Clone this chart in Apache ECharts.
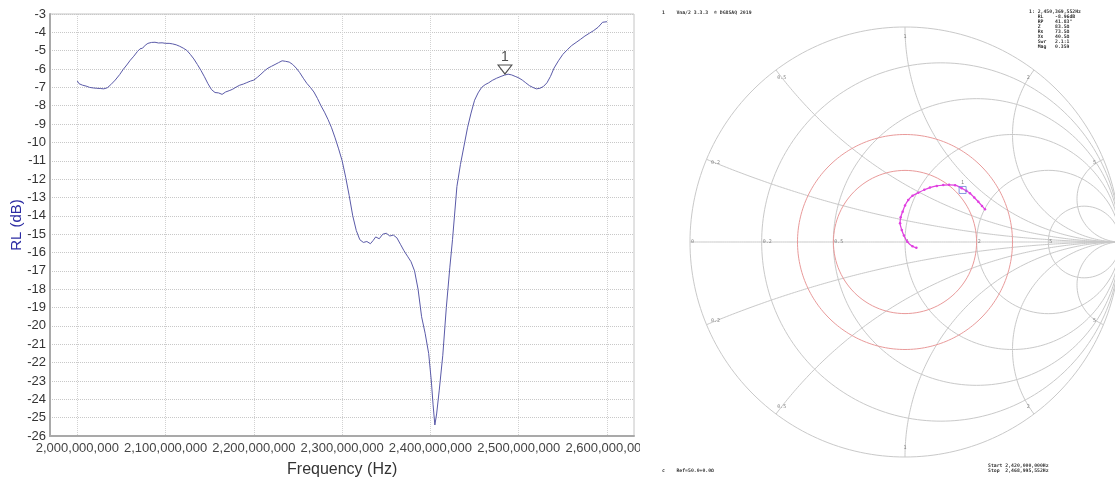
<!DOCTYPE html>
<html><head><meta charset="utf-8">
<script src="https://cdn.jsdelivr.net/npm/echarts@6/dist/echarts.min.js"></script>
<style>html,body{margin:0;padding:0;background:#fff}#c{width:1115px;height:479px}</style>
</head><body><div id="c"></div>
<script>
// ---- Return loss trace (left panel) ----
const freqMHz = [2000,2002,2006,2010,2014,2018,2022,2026,2028,2030,2034,2038,2043,2048,2052,2056,2060,2064,2068,2071,2074,2077,2080,2084,2088,2092,2096,2100,2104,2108,2112,2116,2120,2124,2128,2132,2136,2140,2144,2148,2152,2156,2160,2164,2168,2172,2176,2180,2184,2188,2192,2196,2200,2204,2208,2212,2216,2220,2224,2228,2232,2236,2240,2244,2248,2252,2256,2260,2264,2268,2272,2276,2280,2284,2288,2292,2296,2300,2304,2308,2312,2316,2320,2324,2328,2332,2335,2338,2342,2346,2350,2354,2358,2362,2366,2370,2374,2378,2382,2386,2390,2394,2398,2401,2403,2405,2407,2410,2414,2418,2422,2425,2430,2434,2438,2442,2446,2450,2454,2458,2462,2466,2470,2475,2480,2484,2488,2492,2496,2500,2504,2508,2512,2516,2520,2524,2528,2532,2536,2540,2545,2550,2555,2560,2565,2570,2575,2580,2585,2590,2595,2597,2600];
const rlDb = [-6.65,-6.80,-6.88,-6.93,-7.00,-7.03,-7.05,-7.06,-7.14,-7.08,-7.02,-6.85,-6.60,-6.30,-6.02,-5.78,-5.52,-5.30,-5.05,-4.90,-4.86,-4.70,-4.60,-4.55,-4.54,-4.58,-4.57,-4.60,-4.60,-4.63,-4.68,-4.76,-4.86,-4.98,-5.20,-5.45,-5.75,-6.07,-6.42,-6.80,-7.12,-7.28,-7.30,-7.38,-7.25,-7.18,-7.10,-6.98,-6.88,-6.82,-6.74,-6.66,-6.60,-6.45,-6.28,-6.10,-5.95,-5.85,-5.75,-5.65,-5.55,-5.58,-5.62,-5.75,-5.95,-6.20,-6.50,-6.78,-7.00,-7.25,-7.60,-8.00,-8.35,-8.75,-9.20,-9.75,-10.35,-11.00,-11.90,-12.90,-14.00,-14.80,-15.30,-15.45,-15.40,-15.52,-15.35,-15.15,-15.25,-15.00,-14.95,-15.10,-15.05,-15.20,-15.55,-15.90,-16.20,-16.50,-17.00,-18.00,-19.50,-20.40,-21.50,-23.00,-24.30,-25.40,-24.80,-23.50,-21.60,-19.00,-16.80,-15.30,-12.40,-11.20,-10.20,-9.20,-8.40,-7.70,-7.30,-7.00,-6.85,-6.75,-6.62,-6.50,-6.40,-6.33,-6.28,-6.32,-6.40,-6.48,-6.60,-6.75,-6.90,-7.00,-7.08,-7.05,-6.95,-6.75,-6.40,-5.95,-5.55,-5.20,-4.95,-4.72,-4.55,-4.38,-4.20,-4.05,-3.90,-3.72,-3.45,-3.35,-3.42];
const markerFreqMHz = 2484.4;
const markerDb = -6.27;
const markerName = '1';

// ---- Smith chart (right panel) ----
const smithTraceRe = [0.053,0.035,0.011,-0.005,-0.015,-0.023,-0.020,-0.011,0.000,0.015,0.035,0.062,0.090,0.116,0.148,0.178,0.205,0.233,0.264,0.285,0.302,0.322,0.341,0.358,0.372];
const smithTraceIm = [-0.027,-0.020,0.001,0.030,0.056,0.087,0.115,0.141,0.170,0.195,0.215,0.229,0.243,0.253,0.261,0.265,0.266,0.264,0.250,0.238,0.227,0.207,0.187,0.168,0.152];
const smithMarker = [0.268, 0.242];
const smithR = [0, 0.2, 0.5, 1, 2, 5];
const smithX = [0.2, 0.5, 1, 2, 5];
const vswrGamma = [0.333, 0.5];
const headerText = '1    Vna/2 3.3.3  \u00a9 DG8SAQ 2019';
const readoutLines = ['1: 2,450,369,552Hz','   RL    -8.96dB','   RP    41.83\u00b0','   Z     83.5\u03a9','   Rs    73.5\u03a9','   Xs    40.5\u03a9','   Swr   2.1:1','   Mag   0.359'];
const refText = 'c    Ref=50.0+0.0\u03a9';
const sweepLines = ['Start 2,420,000,000Hz','Stop  2,468,995,552Hz'];

function fmtThousands(v){ return String(Math.round(v)).replace(/\B(?=(\d{3})+(?!\d))/g, ','); }
function gamma(r, x){ const d=(r+1)*(r+1)+x*x; return [(r*r+x*x-1)/d, 2*x/d]; }

const series = [];
series.push({
  type:'line', xAxisIndex:1, yAxisIndex:1, z:3,
  data: freqMHz.map((f,i)=>[f, rlDb[i]]),
  showSymbol:false, lineStyle:{color:'#5a5aa8', width:1}, silent:true
});
series.push({
  type:'scatter', xAxisIndex:1, yAxisIndex:1, z:4,
  data:[[markerFreqMHz, markerDb]],
  symbol:'triangle', symbolRotate:180, symbolSize:[14,9], symbolOffset:[0,-4.5],
  itemStyle:{color:'#fff', borderColor:'#222', borderWidth:1},
  label:{show:true, position:'top', distance:0, formatter:markerName, color:'#222', fontSize:14, fontFamily:'Liberation Sans, Arial, sans-serif'}
});

const gridStyle = {color:'#c9c9c9', width:1};
smithR.forEach(r=>{
  const c = r/(1+r), rad = 1/(1+r), pts=[];
  for(let k=0;k<=240;k++){ const a=k/240*2*Math.PI; pts.push([c+rad*Math.cos(a), rad*Math.sin(a)]); }
  series.push({type:'line', xAxisIndex:2, yAxisIndex:2, z:100, data:pts, showSymbol:false, silent:true, lineStyle:gridStyle, clip:false});
});
[0].concat(smithX, smithX.map(v=>-v)).forEach(x=>{
  const pts=[];
  for(let k=0;k<=400;k++){ const t=k/400*0.9995; const r=t/(1-t); pts.push(gamma(r,x)); }
  pts.push([1,0]);
  series.push({type:'line', xAxisIndex:2, yAxisIndex:2, z:100, data:pts, showSymbol:false, silent:true, lineStyle:gridStyle, clip:false});
});
vswrGamma.forEach(g=>{
  const pts=[];
  for(let k=0;k<=240;k++){ const a=k/240*2*Math.PI; pts.push([g*Math.cos(a), g*Math.sin(a)]); }
  series.push({type:'line', xAxisIndex:2, yAxisIndex:2, z:101, data:pts, showSymbol:false, silent:true, lineStyle:{color:'#e99a9a', width:1}});
});
const labelFont = {fontSize:5, color:'#666', fontFamily:'DejaVu Sans Mono, monospace'};
series.push({type:'scatter', xAxisIndex:2, yAxisIndex:2, z:102, symbolSize:0, silent:true,
  data: smithR.map(r=>{const g=gamma(r,0); return {value:[g[0],0], name:String(r)};}),
  label:Object.assign({show:true, position:'right', distance:1, formatter:p=>p.name}, labelFont)});
series.push({type:'scatter', xAxisIndex:2, yAxisIndex:2, z:102, symbolSize:0, silent:true,
  data: smithX.concat(smithX.map(v=>-v)).map(x=>{const g=gamma(0,x); return {value:[g[0]*0.955,g[1]*0.955], name:String(Math.abs(x))};}),
  label:Object.assign({show:true, position:'inside', formatter:p=>p.name}, labelFont)});
series.push({type:'line', xAxisIndex:2, yAxisIndex:2, z:110, silent:true,
  data: smithTraceRe.map((v,i)=>[v, smithTraceIm[i]]), smooth:0.3,
  symbol:'circle', symbolSize:2.5, showSymbol:true, showAllSymbol:true,
  itemStyle:{color:'#e040e0'}, lineStyle:{color:'#e040e0', width:1.3}});
series.push({type:'scatter', xAxisIndex:2, yAxisIndex:2, z:111, silent:true,
  data:[smithMarker], symbol:'rect', symbolSize:7,
  itemStyle:{color:'rgba(0,0,0,0)', borderColor:'#6f82d8', borderWidth:1},
  label:{show:true, position:'top', distance:1, formatter:'1', fontSize:5, color:'#555'}});

const mono = 'bold 4.8px "DejaVu Sans Mono", monospace';
const graphic = [
  {type:'rect', shape:{x:640, y:0, width:475, height:479}, style:{fill:'#fff'}, z:50, silent:true},
  {type:'text', x:662, y:13, z:200, style:{text:headerText, font:mono, fill:'#333', verticalAlign:'middle'}},
  {type:'text', x:1029, y:9, z:200, style:{text:readoutLines.join('\n'), font:mono, lineHeight:5, fill:'#333'}},
  {type:'text', x:662, y:471, z:200, style:{text:refText, font:mono, fill:'#333', verticalAlign:'middle'}},
  {type:'text', x:988, y:463, z:200, style:{text:sweepLines.join('\n'), font:mono, lineHeight:5.2, fill:'#333'}}
];

const font = 'Liberation Sans, Arial, sans-serif';
const option = {
  animation:false,
  backgroundColor:'#fff',
  grid:[
    {left:50, top:14, width:584, height:422, show:true, borderColor:'#c4c4c4', borderWidth:1, backgroundColor:'#fff', outerBoundsMode:'none', containLabel:false},
    {left:77.3, top:14, width:529.7, height:422, outerBoundsMode:'none', containLabel:false},
    {left:690, top:27, width:430, height:430, outerBoundsMode:'none', containLabel:false}
  ],
  xAxis:[
    {gridIndex:0, type:'value', min:0, max:1, axisLabel:{show:false}, axisTick:{show:false}, splitLine:{show:false},
     axisLine:{show:true, lineStyle:{color:'#a9a9a9', width:2}}},
    {gridIndex:1, type:'value', min:2000, max:2600, interval:100,
     axisLine:{show:false}, axisTick:{show:false},
     axisLabel:{margin:6, color:'#444', fontSize:13, fontFamily:font, formatter:v=>fmtThousands(v*1e6)},
     splitLine:{show:true, lineStyle:{color:'#d2d2d2', type:'dotted', width:1}},
     name:'Frequency (Hz)', nameLocation:'middle', nameGap:26, nameMoveOverlap:false,
     nameTextStyle:{color:'#333', fontSize:16, fontFamily:font}},
    {gridIndex:2, type:'value', min:-1, max:1, show:false}
  ],
  yAxis:[
    {gridIndex:0, type:'value', min:-26, max:-3, interval:1,
     axisLine:{show:true, lineStyle:{color:'#a9a9a9', width:2}}, axisTick:{show:false},
     axisLabel:{margin:4, color:'#333', fontSize:13, fontFamily:font},
     splitLine:{show:true, lineStyle:{color:'#c8c8c8', type:'dotted', width:1}},
     name:'RL (dB)', nameLocation:'middle', nameGap:26, nameMoveOverlap:false,
     nameTextStyle:{color:'#2b2ba3', fontSize:15, fontFamily:font}},
    {gridIndex:1, type:'value', min:-26, max:-3, show:false},
    {gridIndex:2, type:'value', min:-1, max:1, show:false}
  ],
  graphic: graphic,
  series: series
};
const chart = echarts.init(document.getElementById('c'), null, {renderer:'canvas'});
chart.setOption(option);
</script>
</body></html>
